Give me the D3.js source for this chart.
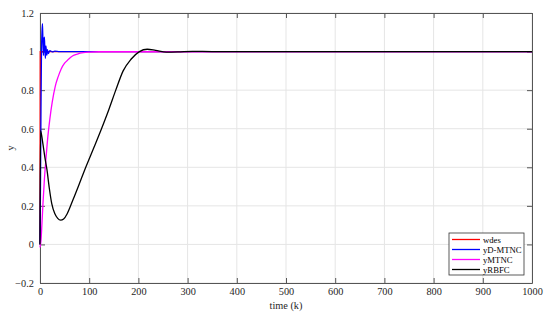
<!DOCTYPE html>
<html><head><meta charset="utf-8">
<script src="https://cdn.jsdelivr.net/npm/d3@7"></script>
<style>body{margin:0;background:#fff}svg{display:block}svg text{font-family:"Liberation Serif","Times New Roman","DejaVu Serif",serif !important}</style>
</head><body>
<script>
const xTicks = [0,100,200,300,400,500,600,700,800,900,1000];
const yTicks = [-0.2,0,0.2,0.4,0.6,0.8,1,1.2];
const seriesNames = ["wdes","yD-MTNC","yMTNC","yRBFC"];
const seriesColors = ["#ff0000","#0000ff","#ff00ff","#000000"];

const wdesK = [0,0.5,1000];
const wdesV = [0,1,1];
const dmtncK = [0,1,2,3,4,5,6,7,8,9,10,11,12,13,14,15,17,20,25,30,40,50,1000];
const dmtncV = [0,0.3,0.7,1.0,1.1,1.145,1.05,0.98,1.06,1.075,1.0,0.965,1.03,1.0,0.98,1.01,0.99,1.005,0.998,1.002,1.0,1.0,1.0];
const mtncK = [0,2,4,6,9,12,16,20,25,31,37,43,50,58,66,76,88,100,120,1000];
const mtncV = [-0.015,0.02,0.11,0.21,0.34,0.44,0.56,0.65,0.74,0.82,0.87,0.91,0.94,0.96,0.977,0.987,0.994,0.997,0.999,1.0];
const rbfcK = [0,1,3,6,10,14,19,24,30,36,42,48,55,61,70,80,93,110,125,140,154,169,185,202,218,235,257,280,310,350,1000];
const rbfcV = [0,0.59,0.57,0.52,0.45,0.39,0.29,0.21,0.16,0.135,0.126,0.132,0.158,0.193,0.25,0.315,0.4,0.505,0.6,0.7,0.8,0.9,0.96,1.0,1.012,1.006,0.997,0.998,1.001,1.0,1.0];

const W = 550, H = 318;
const m = {l:40, r:18, t:13, b:35};
const svg = d3.select("body").append("svg").attr("width",W).attr("height",H)
  .attr("font-family","Liberation Serif, Times New Roman, serif");
const x = d3.scaleLinear().domain([0,1000]).range([m.l, W-m.r]);
const y = d3.scaleLinear().domain([-0.2,1.2]).range([H-m.b, m.t]);
const axisColor = "#555";

// grid
svg.append("g").selectAll("line").data(xTicks).join("line")
  .attr("x1",d=>x(d)).attr("x2",d=>x(d)).attr("y1",m.t).attr("y2",H-m.b)
  .attr("stroke","#e5e5e5").attr("stroke-width",1);
svg.append("g").selectAll("line").data(yTicks).join("line")
  .attr("y1",d=>y(d)).attr("y2",d=>y(d)).attr("x1",m.l).attr("x2",W-m.r)
  .attr("stroke","#e5e5e5").attr("stroke-width",1);

// axes
const fmt = d => d3.format("~g")(d);
const gx = svg.append("g").attr("transform",`translate(0,${H-m.b})`)
  .call(d3.axisBottom(x).tickValues(xTicks).tickSizeInner(-5).tickSizeOuter(0).tickPadding(5).tickFormat(fmt));
const gxt = svg.append("g").attr("transform",`translate(0,${m.t})`)
  .call(d3.axisTop(x).tickValues(xTicks).tickSizeInner(-5).tickSizeOuter(0).tickFormat(""));
const gy = svg.append("g").attr("transform",`translate(${m.l},0)`)
  .call(d3.axisLeft(y).tickValues(yTicks).tickSizeInner(-5).tickSizeOuter(0).tickPadding(6).tickFormat(fmt));
const gyr = svg.append("g").attr("transform",`translate(${W-m.r},0)`)
  .call(d3.axisRight(y).tickValues(yTicks).tickSizeInner(-5).tickSizeOuter(0).tickFormat(""));
[gx,gxt,gy,gyr].forEach(g=>{
  g.attr("font-family",null);
  g.select(".domain").attr("stroke",axisColor);
  g.selectAll(".tick line").attr("stroke",axisColor);
  g.selectAll(".tick text").attr("fill","#262626").style("font-size","10.3px");
});

// lines
const series = [[wdesK,wdesV],[dmtncK,dmtncV],[mtncK,mtncV],[rbfcK,rbfcV]];
const line = d3.line().x(d=>x(d[0])).y(d=>y(d[1])).curve(d3.curveMonotoneX);
series.forEach((s,i)=>{
  const pts = s[0].map((k,j)=>[k,s[1][j]]);
  svg.append("path").datum(pts).attr("d", i===0 ? d3.line().x(d=>x(d[0])).y(d=>y(d[1]))(pts) : line)
    .attr("fill","none").attr("stroke",seriesColors[i]).attr("stroke-width",1.3);
});

// labels
svg.append("text").attr("x",(m.l+W-m.r)/2).attr("y",309).attr("text-anchor","middle")
  .style("font-size","10.3px").attr("fill","#262626").text("time (k)");
svg.append("text").attr("transform",`translate(14,${(m.t+H-m.b)/2}) rotate(-90)`).attr("text-anchor","middle")
  .style("font-size","10.3px").attr("fill","#262626").text("y");

// legend
const lg = svg.append("g").attr("transform","translate(449,233)");
lg.append("rect").attr("width",75).attr("height",42).attr("fill","#fff").attr("stroke","#333").attr("stroke-width",0.8);
seriesNames.forEach((n,i)=>{
  const yy = 6.5 + i*10;
  lg.append("line").attr("x1",3).attr("x2",31).attr("y1",yy).attr("y2",yy).attr("stroke",seriesColors[i]).attr("stroke-width",1.3);
  lg.append("text").attr("x",34).attr("y",yy+3.2).style("font-size","8.7px").attr("fill","#000").text(n);
});
</script>
</body></html>
